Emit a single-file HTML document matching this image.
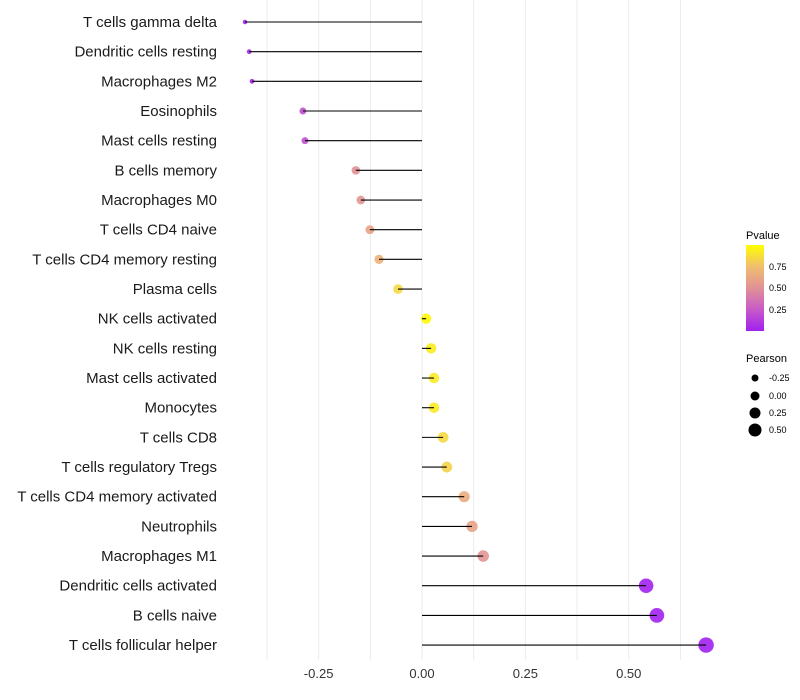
<!DOCTYPE html>
<html><head><meta charset="utf-8"><style>
body{margin:0;background:#fff;font-family:"Liberation Sans",sans-serif}
svg{display:block}
</style></head><body>
<svg id="c" width="800" height="700">
<defs><linearGradient id="pg" x1="0" y1="1" x2="0" y2="0">
<stop offset="0" stop-color="#a020f0"/><stop offset="0.25" stop-color="#c85ac8"/><stop offset="0.5" stop-color="#e19196"/><stop offset="0.75" stop-color="#f0be6e"/><stop offset="1" stop-color="#ffff00"/>
</linearGradient></defs>
<g id="grid"></g><g id="marks"></g><g id="labels"></g><g id="ticks"></g>
<g>
<text x="746" y="239" font-size="11" fill="#000">Pvalue</text>
<rect x="746" y="245" width="18" height="86" fill="url(#pg)"/>
<text x="769" y="270" font-size="9" fill="#000">0.75</text>
<text x="769" y="291" font-size="9" fill="#000">0.50</text>
<text x="769" y="313" font-size="9" fill="#000">0.25</text>
</g>
<g>
<text x="746" y="362" font-size="11" fill="#000">Pearson</text>
<circle cx="755" cy="378" r="3.5" fill="#000"/><text x="769" y="381" font-size="9">-0.25</text>
<circle cx="755" cy="396" r="4.5" fill="#000"/><text x="769" y="399" font-size="9">0.00</text>
<circle cx="755" cy="413" r="5.5" fill="#000"/><text x="769" y="416" font-size="9">0.25</text>
<circle cx="755" cy="430" r="6.5" fill="#000"/><text x="769" y="433" font-size="9">0.50</text>
</g>
</svg>
<script>
const categories=["T cells gamma delta","Dendritic cells resting","Macrophages M2","Eosinophils","Mast cells resting","B cells memory","Macrophages M0","T cells CD4 naive","T cells CD4 memory resting","Plasma cells","NK cells activated","NK cells resting","Mast cells activated","Monocytes","T cells CD8","T cells regulatory  Tregs ","T cells CD4 memory activated","Neutrophils","Macrophages M1","Dendritic cells activated","B cells naive","T cells follicular helper"];
const pearson=[-0.428,-0.418,-0.411,-0.288,-0.283,-0.160,-0.148,-0.126,-0.104,-0.058,0.010,0.022,0.029,0.029,0.051,0.060,0.102,0.121,0.148,0.542,0.568,0.687];
const pvalues=[0.02,0.03,0.03,0.2,0.21,0.5,0.52,0.6,0.68,0.85,0.98,0.93,0.92,0.92,0.85,0.83,0.65,0.6,0.52,0.01,0.01,0.0];
const tickValues=[-0.25,0,0.25,0.5];
const tickLabels=["-0.25","0.00","0.25","0.50"];
const NS="http://www.w3.org/2000/svg";
const x=v=>422+v*413.5;
const y=i=>22+i*29.67;
function col(p){const st=[[0,[160,32,240]],[0.25,[200,90,200]],[0.5,[225,145,150]],[0.75,[240,190,110]],[1,[255,255,0]]];
for(let k=0;k<4;k++){const [a,ca]=st[k],[b,cb]=st[k+1];if(p<=b){const t=(p-a)/(b-a);return `rgb(${ca.map((c,j)=>Math.round(c+(cb[j]-c)*t)).join(",")})`;}}return "rgb(255,255,0)";}
const rad=v=>Math.sqrt(5+(v+0.43)/(0.69+0.43)*(60-5));
function el(t,a,p){const e=document.createElementNS(NS,t);for(const k in a)e.setAttribute(k,a[k]);p.appendChild(e);return e;}
const grid=document.getElementById("grid"),marks=document.getElementById("marks"),labels=document.getElementById("labels"),ticks=document.getElementById("ticks");
for(let g=-0.375;g<=0.7;g+=0.125){const l=el("line",{x1:x(g),x2:x(g),y1:0,y2:660,stroke:"#ebebeb","stroke-width":1},grid);

}
tickValues.forEach((v,i)=>{const t=el("text",{x:x(v),y:678,"font-size":13,"text-anchor":"middle",fill:"#333"},ticks);t.textContent=tickLabels[i];

});
categories.forEach((c,i)=>{
const t=el("text",{x:217,y:y(i)+5,"font-size":15,"text-anchor":"end",fill:"#1a1a1a"},labels);t.textContent=c;


const ci=el("circle",{cx:x(pearson[i]),cy:y(i),r:rad(pearson[i]),fill:col(pvalues[i]),"fill-opacity":0.9},marks);


const s=el("line",{x1:x(0),x2:x(pearson[i]),y1:y(i),y2:y(i),stroke:"#000","stroke-width":1.1},marks);


});
</script>
</body></html>
